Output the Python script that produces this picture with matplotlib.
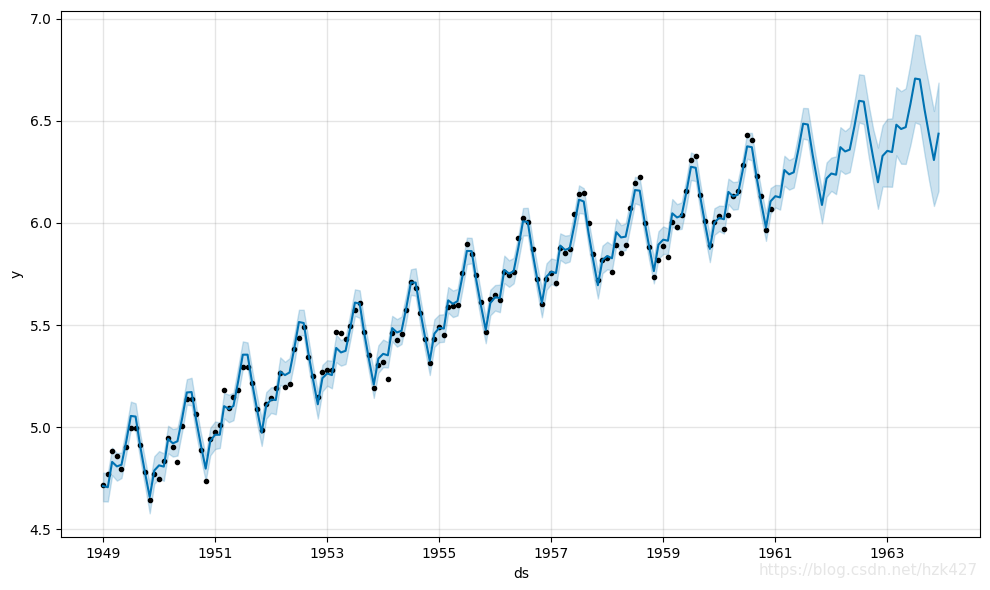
import numpy as np
import pandas as pd
import matplotlib
matplotlib.use('Agg')
import matplotlib.pyplot as plt
import matplotlib.dates as mdates

# observed points (log passengers), one row per year 1949..1960
y_obs = [
    [4.718, 4.771, 4.883, 4.860, 4.796, 4.905, 4.997, 4.997, 4.913, 4.779, 4.644, 4.771],
    [4.745, 4.836, 4.949, 4.905, 4.828, 5.004, 5.136, 5.136, 5.063, 4.890, 4.736, 4.942],
    [4.977, 5.011, 5.182, 5.094, 5.147, 5.182, 5.293, 5.293, 5.215, 5.088, 4.984, 5.112],
    [5.142, 5.193, 5.263, 5.198, 5.209, 5.384, 5.438, 5.489, 5.342, 5.252, 5.147, 5.268],
    [5.278, 5.278, 5.464, 5.460, 5.434, 5.493, 5.576, 5.606, 5.468, 5.352, 5.193, 5.303],
    [5.318, 5.236, 5.460, 5.425, 5.455, 5.576, 5.710, 5.680, 5.557, 5.434, 5.313, 5.434],
    [5.489, 5.451, 5.587, 5.595, 5.598, 5.753, 5.897, 5.849, 5.743, 5.613, 5.468, 5.628],
    [5.649, 5.624, 5.759, 5.746, 5.762, 5.924, 6.023, 6.004, 5.872, 5.724, 5.602, 5.724],
    [5.753, 5.707, 5.875, 5.852, 5.872, 6.045, 6.142, 6.146, 6.001, 5.849, 5.720, 5.817],
    [5.829, 5.762, 5.892, 5.852, 5.894, 6.075, 6.196, 6.225, 6.001, 5.883, 5.737, 5.820],
    [5.886, 5.835, 6.006, 5.981, 6.040, 6.157, 6.306, 6.326, 6.138, 6.009, 5.892, 6.004],
    [6.033, 5.969, 6.038, 6.133, 6.157, 6.282, 6.433, 6.407, 6.230, 6.133, 5.966, 6.068],
]

# forecast line, 1949..1963
yhat = [
    [4.712, 4.706, 4.830, 4.808, 4.816, 4.930, 5.055, 5.052, 4.904, 4.779, 4.658, 4.788],
    [4.813, 4.807, 4.942, 4.921, 4.931, 5.045, 5.170, 5.172, 5.031, 4.911, 4.797, 4.932],
    [4.963, 4.963, 5.103, 5.089, 5.104, 5.225, 5.355, 5.355, 5.212, 5.090, 4.973, 5.107],
    [5.135, 5.133, 5.272, 5.255, 5.268, 5.387, 5.515, 5.510, 5.361, 5.234, 5.112, 5.240],
    [5.263, 5.255, 5.388, 5.366, 5.374, 5.487, 5.610, 5.605, 5.456, 5.330, 5.208, 5.336],
    [5.359, 5.352, 5.485, 5.464, 5.472, 5.585, 5.708, 5.708, 5.564, 5.442, 5.325, 5.458],
    [5.486, 5.483, 5.621, 5.604, 5.617, 5.735, 5.863, 5.862, 5.717, 5.594, 5.476, 5.608],
    [5.636, 5.633, 5.770, 5.752, 5.764, 5.881, 6.008, 6.004, 5.856, 5.729, 5.608, 5.737],
    [5.761, 5.755, 5.889, 5.868, 5.876, 5.990, 6.114, 6.105, 5.952, 5.821, 5.695, 5.819],
    [5.838, 5.827, 5.955, 5.929, 5.933, 6.042, 6.161, 6.158, 6.010, 5.885, 5.764, 5.894],
    [5.918, 5.913, 6.047, 6.027, 6.036, 6.151, 6.275, 6.270, 6.122, 5.995, 5.873, 6.002],
    [6.025, 6.018, 6.152, 6.130, 6.138, 6.252, 6.375, 6.371, 6.224, 6.098, 5.977, 6.106],
    [6.131, 6.125, 6.259, 6.238, 6.248, 6.362, 6.486, 6.482, 6.335, 6.209, 6.088, 6.218],
    [6.242, 6.236, 6.371, 6.350, 6.359, 6.474, 6.598, 6.594, 6.446, 6.320, 6.199, 6.328],
    [6.353, 6.347, 6.481, 6.460, 6.469, 6.583, 6.707, 6.703, 6.555, 6.429, 6.308, 6.437],
]

# distance of the interval edges below / above the line
gap_lo = [
    [0.075, 0.07, 0.065, 0.07, 0.065, 0.06, 0.065, 0.07, 0.065, 0.065, 0.08, 0.065],
    [0.065, 0.07, 0.07, 0.065, 0.07, 0.065, 0.06, 0.065, 0.07, 0.065, 0.06, 0.07],
    [0.07, 0.065, 0.06, 0.065, 0.07, 0.065, 0.07, 0.065, 0.06, 0.07, 0.065, 0.065],
    [0.065, 0.07, 0.065, 0.06, 0.065, 0.07, 0.065, 0.06, 0.065, 0.07, 0.07, 0.065],
    [0.06, 0.065, 0.07, 0.065, 0.065, 0.06, 0.065, 0.07, 0.065, 0.06, 0.065, 0.07],
    [0.065, 0.06, 0.065, 0.07, 0.065, 0.065, 0.06, 0.065, 0.07, 0.065, 0.07, 0.065],
    [0.07, 0.065, 0.06, 0.065, 0.07, 0.065, 0.065, 0.06, 0.065, 0.07, 0.065, 0.06],
    [0.065, 0.07, 0.065, 0.065, 0.06, 0.065, 0.07, 0.065, 0.06, 0.065, 0.07, 0.065],
    [0.06, 0.065, 0.07, 0.065, 0.065, 0.07, 0.065, 0.06, 0.065, 0.07, 0.065, 0.065],
    [0.065, 0.06, 0.065, 0.07, 0.065, 0.06, 0.065, 0.07, 0.065, 0.065, 0.06, 0.07],
    [0.07, 0.065, 0.065, 0.06, 0.065, 0.07, 0.065, 0.065, 0.07, 0.065, 0.065, 0.06],
    [0.065, 0.07, 0.06, 0.065, 0.07, 0.065, 0.06, 0.065, 0.065, 0.07, 0.065, 0.06],
    [0.055, 0.06, 0.077, 0.075, 0.075, 0.075, 0.073, 0.075, 0.08, 0.085, 0.09, 0.09],
    [0.085, 0.095, 0.114, 0.11, 0.11, 0.108, 0.106, 0.11, 0.12, 0.125, 0.13, 0.15],
    [0.175, 0.17, 0.15, 0.17, 0.18, 0.2, 0.215, 0.22, 0.22, 0.225, 0.225, 0.28],
]
gap_hi = [
    [0.065, 0.07, 0.07, 0.065, 0.06, 0.065, 0.07, 0.065, 0.06, 0.065, 0.065, 0.07],
    [0.07, 0.065, 0.065, 0.07, 0.065, 0.06, 0.065, 0.07, 0.065, 0.06, 0.065, 0.065],
    [0.065, 0.06, 0.065, 0.07, 0.065, 0.07, 0.065, 0.06, 0.065, 0.065, 0.07, 0.065],
    [0.06, 0.065, 0.07, 0.065, 0.07, 0.065, 0.06, 0.065, 0.07, 0.065, 0.06, 0.065],
    [0.065, 0.07, 0.065, 0.06, 0.065, 0.07, 0.065, 0.065, 0.06, 0.065, 0.07, 0.065],
    [0.07, 0.065, 0.06, 0.065, 0.07, 0.065, 0.065, 0.07, 0.065, 0.06, 0.065, 0.07],
    [0.065, 0.07, 0.065, 0.065, 0.06, 0.07, 0.065, 0.065, 0.07, 0.065, 0.06, 0.065],
    [0.06, 0.065, 0.07, 0.065, 0.065, 0.06, 0.065, 0.07, 0.065, 0.065, 0.07, 0.065],
    [0.065, 0.065, 0.06, 0.07, 0.065, 0.065, 0.07, 0.065, 0.06, 0.065, 0.065, 0.07],
    [0.07, 0.065, 0.065, 0.06, 0.065, 0.07, 0.065, 0.06, 0.065, 0.07, 0.065, 0.065],
    [0.065, 0.06, 0.07, 0.065, 0.065, 0.065, 0.07, 0.065, 0.065, 0.06, 0.065, 0.07],
    [0.06, 0.065, 0.065, 0.07, 0.065, 0.06, 0.065, 0.07, 0.065, 0.065, 0.07, 0.065],
    [0.055, 0.06, 0.07, 0.07, 0.072, 0.075, 0.077, 0.08, 0.08, 0.075, 0.073, 0.078],
    [0.078, 0.09, 0.098, 0.1, 0.11, 0.12, 0.13, 0.13, 0.135, 0.14, 0.17, 0.15],
    [0.157, 0.165, 0.184, 0.185, 0.19, 0.2, 0.215, 0.215, 0.23, 0.24, 0.24, 0.25],
]

tick_years = ['1949', '1951', '1953', '1955', '1957', '1959', '1961', '1963']

ds_obs = pd.date_range('1949-01-01', periods=12 * len(y_obs), freq='MS')
ds_fc = pd.date_range('1949-01-01', periods=12 * len(yhat), freq='MS')

y = np.array(y_obs).ravel()
fc = np.array(yhat).ravel()
lower = fc - np.array(gap_lo).ravel()
upper = fc + np.array(gap_hi).ravel()

fig = plt.figure(facecolor='w', figsize=(9.9, 5.9), dpi=100)
ax = fig.add_subplot(111)
ax.plot(ds_obs, y, 'k.')
ax.plot(ds_fc, fc, ls='-', c='#0072B2')
ax.fill_between(ds_fc, lower, upper, color='#0072B2', alpha=0.2)
ax.grid(True, which='major', c='gray', ls='-', lw=1, alpha=0.2)
ax.set_xticks(pd.to_datetime(tick_years))
ax.xaxis.set_major_formatter(mdates.DateFormatter('%Y'))
ax.set_xlabel('ds')
ax.set_ylabel('y')
fig.subplots_adjust(left=61.3 / 990, right=980.3 / 990, bottom=1 - 537.3 / 590, top=1 - 10.7 / 590)
fig.text(0.988, 0.02, 'https://blog.csdn.net/hzk427', ha='right', va='bottom',
         color='#e6e6e6', fontsize=11)
plt.savefig('out.png')
